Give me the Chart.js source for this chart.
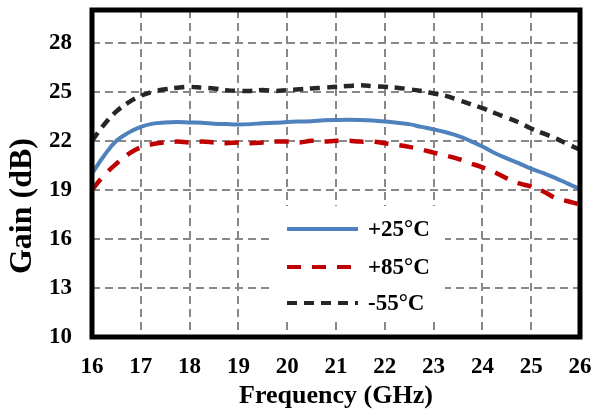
<!DOCTYPE html>
<html><head><meta charset="utf-8">
<script src="https://cdn.jsdelivr.net/npm/chart.js@4.4.1/dist/chart.umd.min.js"></script>
<style>html,body{margin:0;padding:0;background:#fff}#wrap{width:591px;height:412px}</style>
</head><body><div id="wrap"><canvas id="c" width="591" height="412"></canvas></div>
<script>
const freq = [16,16.25,16.5,16.75,17,17.25,17.5,17.75,18,18.25,18.5,18.75,19,19.25,19.5,19.75,20,20.25,20.5,20.75,21,21.25,21.5,21.75,22,22.25,22.5,22.75,23,23.25,23.5,23.75,24,24.25,24.5,24.75,25,25.25,25.5,25.75,26];
const gain25 = [20.0,21.1,22.0,22.5,22.85,23.05,23.12,23.15,23.12,23.1,23.05,23.02,23.0,23.02,23.08,23.1,23.15,23.18,23.2,23.25,23.27,23.28,23.27,23.24,23.18,23.1,23.02,22.85,22.7,22.52,22.3,22.0,21.65,21.25,20.93,20.62,20.3,20.02,19.72,19.38,19.05];
const gain85 = [19.0,19.9,20.6,21.2,21.6,21.8,21.9,21.95,21.9,21.95,21.9,21.85,21.9,21.85,21.9,21.95,21.95,21.9,22.0,21.95,22.0,22.0,21.95,21.95,21.85,21.75,21.63,21.47,21.28,21.1,20.9,20.63,20.38,20.08,19.7,19.4,19.2,18.9,18.5,18.3,18.1];
const gainM55 = [22.0,23.0,23.8,24.35,24.75,25.0,25.15,25.25,25.3,25.25,25.2,25.1,25.05,25.05,25.1,25.05,25.1,25.15,25.2,25.25,25.3,25.35,25.4,25.35,25.3,25.25,25.15,25.05,24.9,24.75,24.5,24.25,24.0,23.7,23.42,23.12,22.75,22.45,22.15,21.8,21.45];
const seriesNames = ['+25°C','+85°C','-55°C'];
const yTicks = [10,13,16,19,22,25,28];
const xTicks = [16,17,18,19,20,21,22,23,24,25,26];
const xTitle = 'Frequency (GHz)';
const yTitle = 'Gain (dB)';

const toPts = arr => freq.map((f,i)=>({x:f,y:arr[i]}));
const FONT = 'Liberation Serif';

const framePlugin = {
  id:'frame',
  afterDatasetsDraw(chart){
    const {ctx, chartArea:a} = chart;
    ctx.save();
    // legend box
    const lx = 272, ly = 206, lw = 173, lh = 115;
    ctx.fillStyle = '#fff';
    ctx.fillRect(lx, ly, lw, lh);
    const rows = [229, 267, 303];
    chart.data.datasets.forEach((ds,i)=>{
      ctx.beginPath();
      ctx.strokeStyle = ds.borderColor;
      ctx.lineWidth = 4;
      ctx.lineCap = 'butt';
      ctx.setLineDash(ds.borderDash || []);
      ctx.moveTo(287, rows[i]);
      ctx.lineTo(358, rows[i]);
      ctx.stroke();
      ctx.setLineDash([]);
      ctx.fillStyle = '#000';
      ctx.font = 'bold 23px "' + FONT + '"';
      ctx.textBaseline = 'middle';
      ctx.textAlign = 'left';
      ctx.fillText(ds.label, 368, rows[i] + 1);
    });
    // frame
    ctx.strokeStyle = '#000';
    ctx.lineWidth = 5;
    ctx.setLineDash([]);
    ctx.strokeRect(a.left, a.top, a.right - a.left, a.bottom - a.top);
    // y title
    ctx.translate(23, 206);
    ctx.rotate(-Math.PI/2);
    ctx.fillStyle = '#000';
    ctx.font = 'bold 32px "' + FONT + '"';
    ctx.textAlign = 'center';
    ctx.textBaseline = 'middle';
    ctx.fillText(yTitle, 0, 0);
    ctx.restore();
  }
};

new Chart(document.getElementById('c'), {
  type:'line',
  data:{
    datasets:[
      {label:seriesNames[0], data:toPts(gain25), borderColor:'#4f81bd', borderWidth:4, pointRadius:0, tension:0.4, fill:false},
      {label:seriesNames[1], data:toPts(gain85), borderColor:'#c00000', borderWidth:4.5, borderDash:[14,11], pointRadius:0, tension:0.4, fill:false},
      {label:seriesNames[2], data:toPts(gainM55), borderColor:'#262626', borderWidth:4.5, borderDash:[10,7], pointRadius:0, tension:0.4, fill:false}
    ]
  },
  options:{
    responsive:false, animation:false,
    layout:{padding:{top:10,right:11,left:0,bottom:0}},
    plugins:{legend:{display:false}, tooltip:{enabled:false}},
    scales:{
      x:{
        type:'linear', min:16, max:26,
        afterBuildTicks:s=>{ s.ticks = xTicks.map(v=>({value:v})); },
        afterFit:s=>{ s.height = 75; s.paddingLeft = 0; s.paddingRight = 0; },
        ticks:{font:{family:FONT, size:23, weight:'bold'}, color:'#000', padding:16, maxRotation:0, autoSkip:false},
        grid:{color:'#888888', lineWidth:2, drawTicks:false},
        border:{display:false, dash:[8,5]},
        title:{display:true, text:xTitle, font:{family:FONT, size:26, weight:'bold'}, color:'#000', padding:{top:0,bottom:0}}
      },
      y:{
        type:'linear', min:10, max:30,
        afterBuildTicks:s=>{ s.ticks = yTicks.map(v=>({value:v})); },
        afterFit:s=>{ s.width = 92; s.paddingTop = 0; s.paddingBottom = 0; },
        ticks:{font:{family:FONT, size:23, weight:'bold'}, color:'#000', padding:20, autoSkip:false},
        grid:{color:'#888888', lineWidth:2, drawTicks:false},
        border:{display:false, dash:[8,5]},
        title:{display:false}
      }
    }
  },
  plugins:[framePlugin]
});
</script></body></html>
